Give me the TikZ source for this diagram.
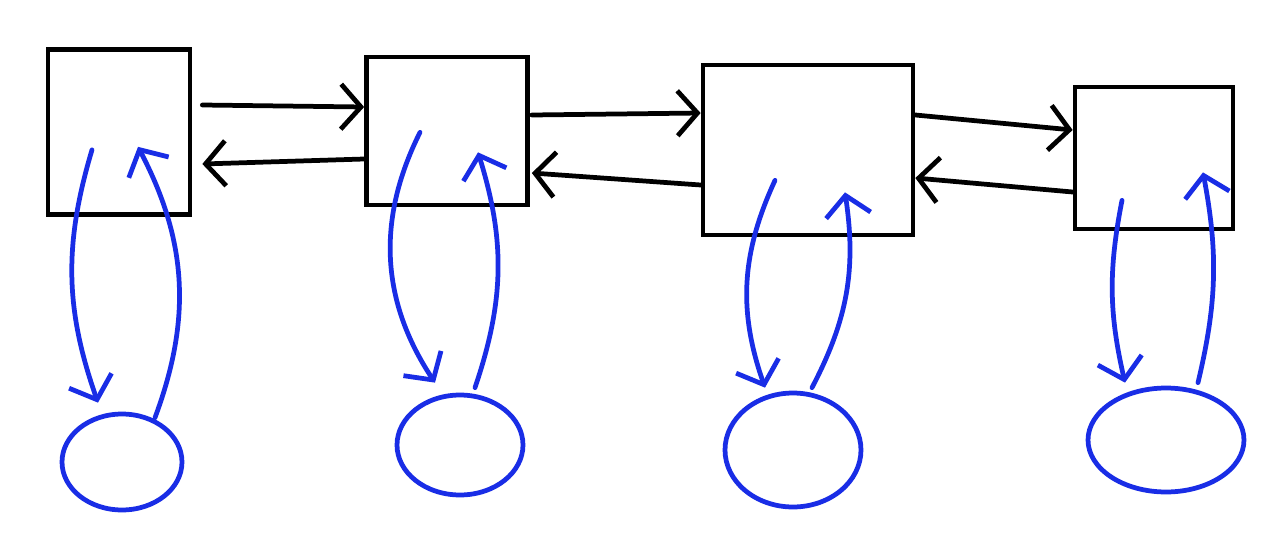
\documentclass[tikz,border=0pt]{standalone}
\usetikzlibrary{shapes.geometric,arrows.meta,calc}
\definecolor{inkblue}{RGB}{25,45,230}
\tikzset{
  boxnode/.style={draw=black, line width=0.095cm, rectangle, inner sep=0pt},
  blobnode/.style={draw=inkblue, line width=0.095cm, ellipse, inner sep=0pt},
  blackarrow/.style={draw=black, line width=0.095cm, line cap=round, -{Straight Barb[length=4mm,width=9mm,line width=0.095cm]}},
  bluearrow/.style={draw=inkblue, line width=0.095cm, line cap=round, -{Straight Barb[length=4mm,width=9mm,line width=0.095cm]}}
}
\begin{document}
\begin{tikzpicture}[x=0.02cm,y=-0.02cm]
\fill[white] (0,0) rectangle (1272,548);
\useasboundingbox (0,0) rectangle (1272,548);
% boxes
\node[boxnode, minimum width=2.84cm, minimum height=3.3cm] (b1) at (119,132) {};
\node[boxnode, minimum width=3.22cm, minimum height=2.96cm] (b2) at (447,131) {};
\node[boxnode, minimum width=4.2cm, minimum height=3.4cm] (b3) at (808,150) {};
\node[boxnode, minimum width=3.16cm, minimum height=2.84cm] (b4) at (1154,158) {};
% blobs
\node[blobnode, minimum width=2.4cm, minimum height=1.92cm] (c1) at (122,462) {};
\node[blobnode, minimum width=2.52cm, minimum height=2.0cm] (c2) at (460,445) {};
\node[blobnode, minimum width=2.72cm, minimum height=2.28cm] (c3) at (793,450) {};
\node[blobnode, minimum width=3.12cm, minimum height=2.08cm] (c4) at (1166,440) {};
% black links
\draw[blackarrow] ($(b1.east)+(10,-27)$) -- ($(b2.west)+(0,-24)$);
\draw[blackarrow] ($(b2.west)+(0,28)$) -- ($(b1.east)+(10,32)$);
\draw[blackarrow] ($(b2.east)+(2,-16)$) -- ($(b3.west)+(0,-37)$);
\draw[blackarrow] ($(b3.west)+(0,35)$) -- ($(b2.east)+(2,42)$);
\draw[blackarrow] ($(b3.east)+(0,-35)$) -- ($(b4.west)+(0,-28)$);
\draw[blackarrow] ($(b4.west)+(0,34)$) -- ($(b3.east)+(0,28)$);
% blue links
\draw[bluearrow] ($(b1.south)+(-27,-67)$) to[bend right=18] ($(c1.north)+(-24,-9)$);
\draw[bluearrow] ($(c1.north)+(33,6)$) to[bend right=24] ($(b1.south)+(19,-70)$);
\draw[bluearrow] ($(b2.south)+(-27,-75)$) to[bend right=30] ($(c2.north)+(-25,-10)$);
\draw[bluearrow] ($(c2.north)+(15,-5)$) to[bend right=18] ($(b2.south)+(31,-55)$);
\draw[bluearrow] ($(b3.south)+(-33,-57)$) to[bend right=22] ($(c3.north)+(-28,-3)$);
\draw[bluearrow] ($(c3.north)+(19,-3)$) to[bend right=18] ($(b3.south)+(37,-45)$);
\draw[bluearrow] ($(b4.south)+(-32,-31)$) to[bend right=12] ($(c4.north)+(-41,-3)$);
\draw[bluearrow] ($(c4.north)+(32,-3)$) to[bend right=12] ($(b4.south)+(49,-59)$);
\end{tikzpicture}
\end{document}
